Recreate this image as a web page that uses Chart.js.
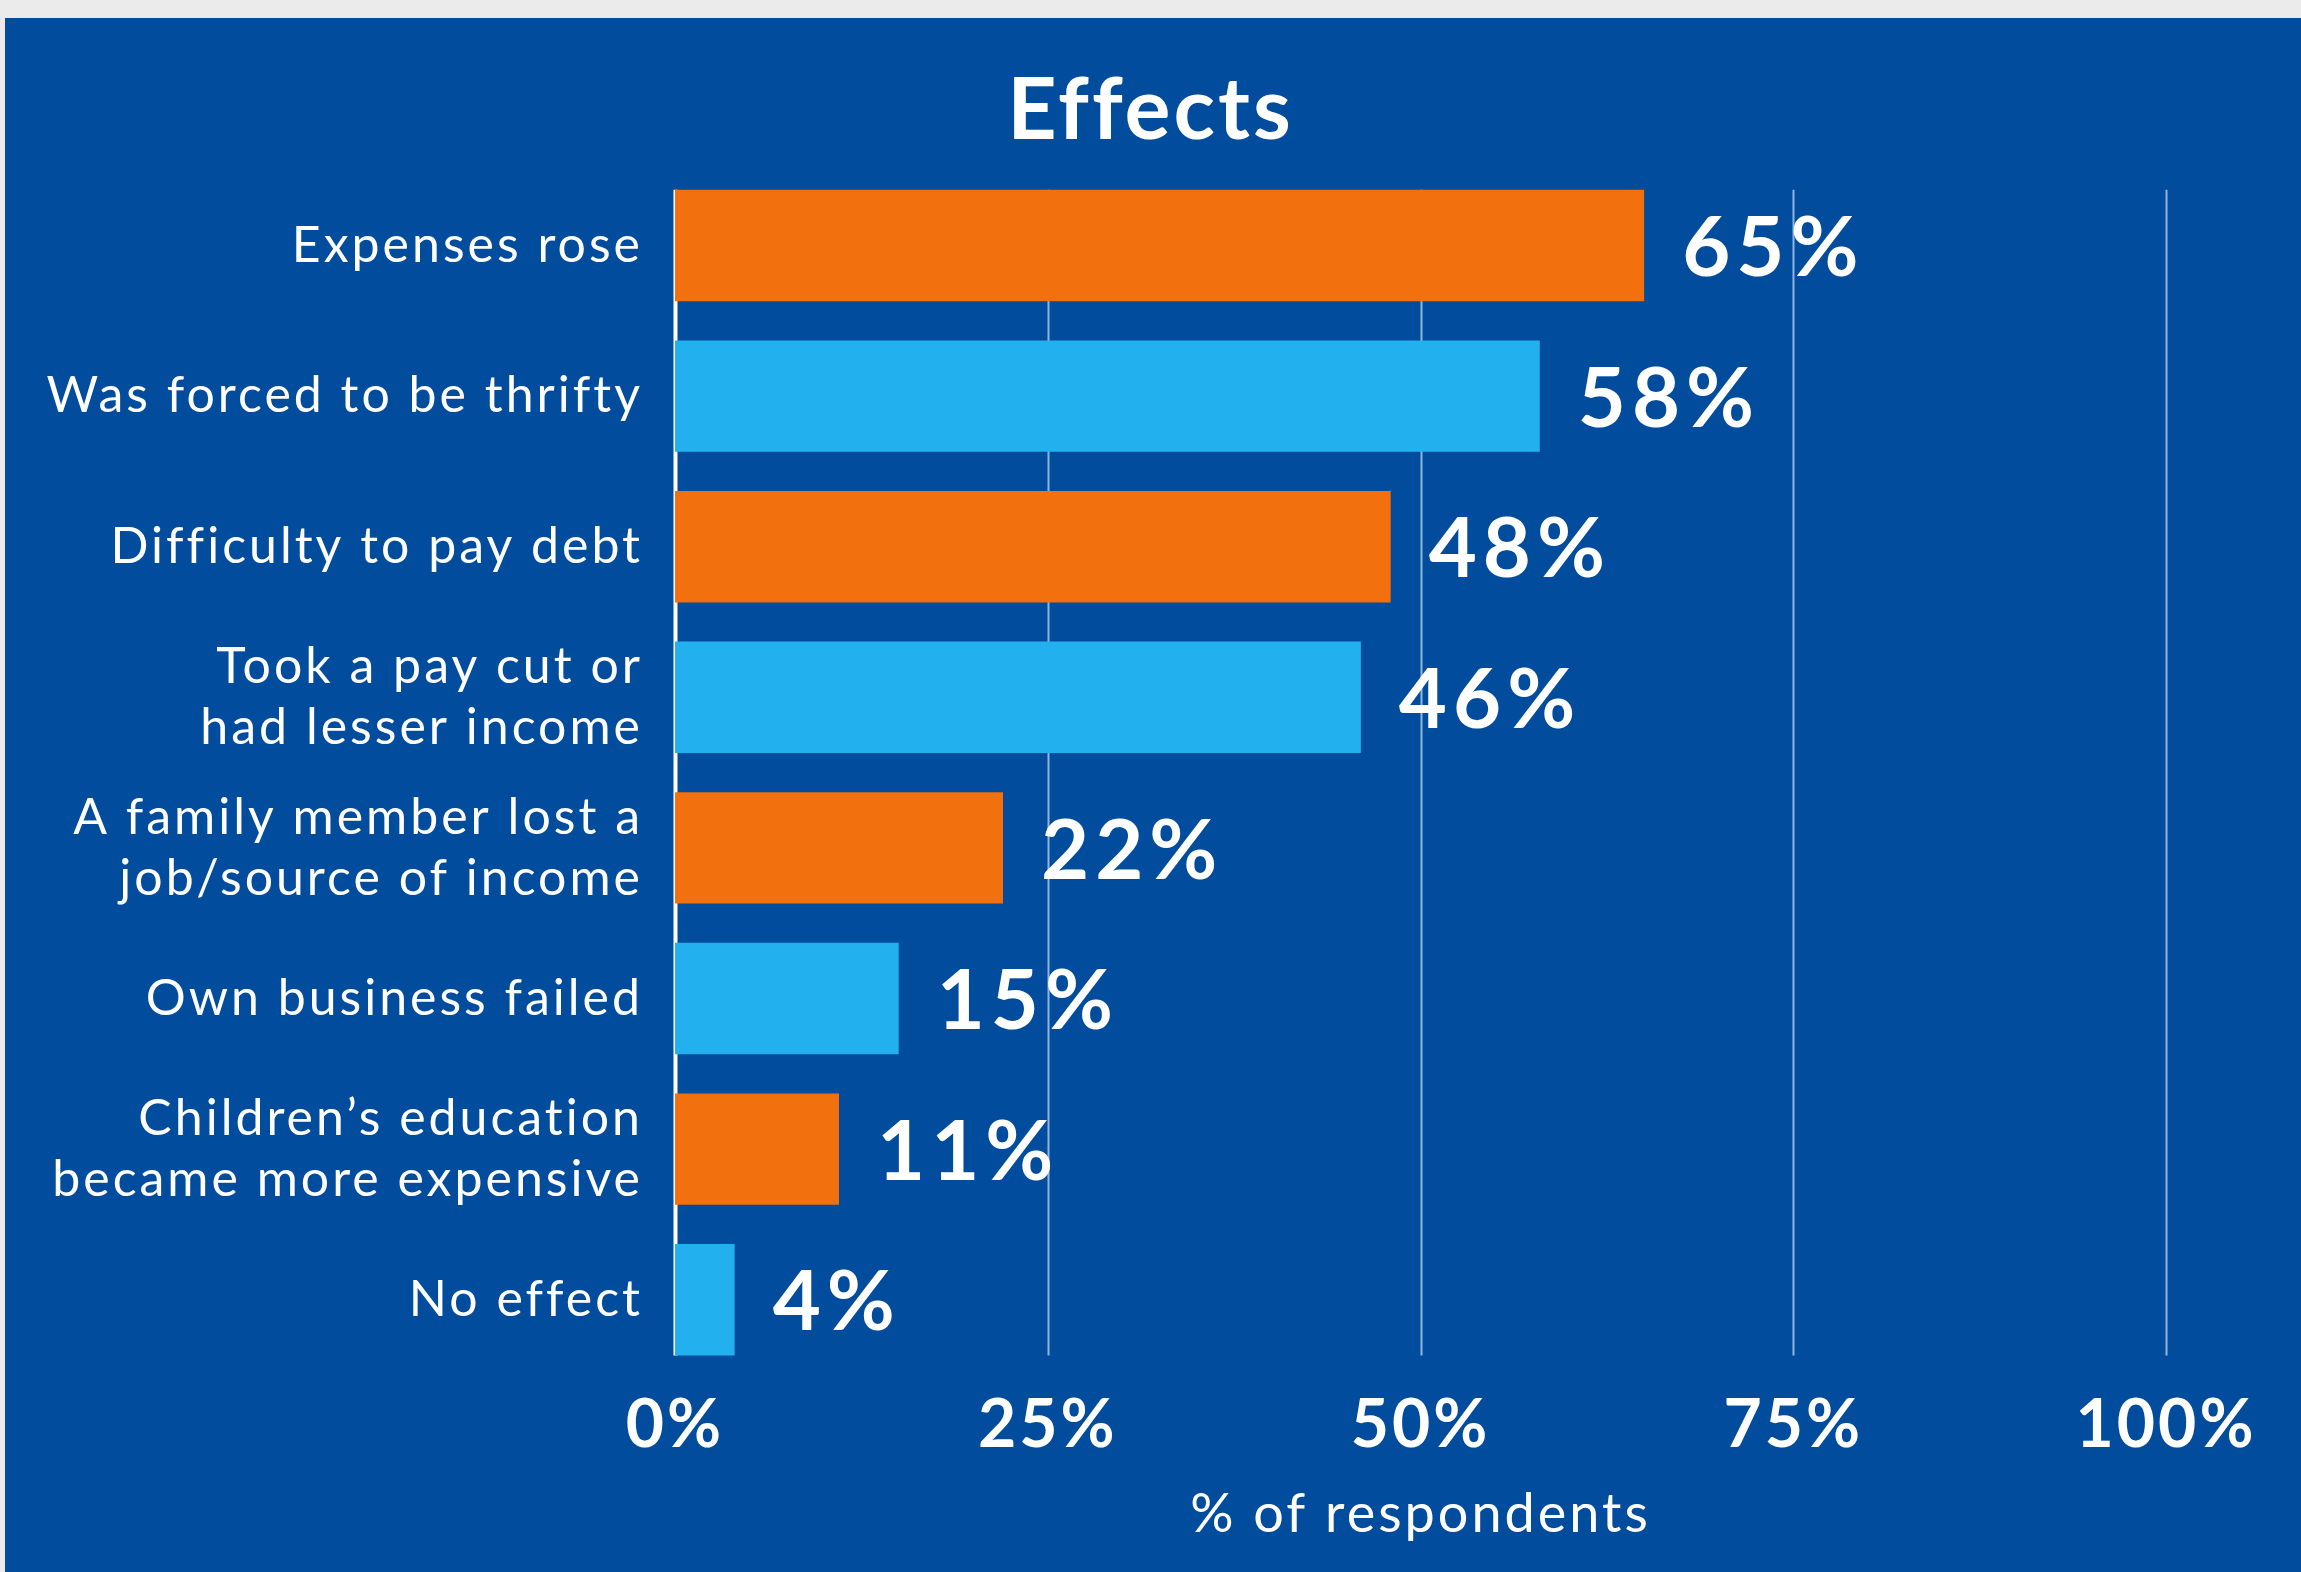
<!DOCTYPE html>
<html>
<head>
<meta charset="utf-8">
<script src="https://cdn.jsdelivr.net/npm/chart.js@4.4.1/dist/chart.umd.min.js"></script>
<style>
  html, body { margin: 0; padding: 0; background: #ebebeb; }
  #panel { position: absolute; left: 5px; top: 18px; right: 0; bottom: 0; background: #014c9c; }
  #wrap { position: absolute; left: 0; top: 0; width: 2301px; height: 1572px; }
</style>
</head>
<body>
<div id="panel"></div>
<div id="wrap"><canvas id="effectsChart"></canvas></div>
<script>
// data
var categories = [
  "Expenses rose",
  "Was forced to be thrifty",
  "Difficulty to pay debt",
  ["Took a pay cut or", "had lesser income"],
  ["A family member lost a", "job/source of income"],
  "Own business failed",
  ["Children\u2019s education", "became more expensive"],
  "No effect"
];
var respondents = [65, 58, 48, 46, 22, 15, 11, 4];
var tickValues = [0, 25, 50, 75, 100];

var ORANGE = "#f2700d";
var SKY = "#22b1ee";
var FONT = "Lato, 'Open Sans', sans-serif";

// the reference font is tracked out a bit
var spacingPlugin = {
  id: "tracking",
  beforeUpdate: function (chart) { chart.ctx.letterSpacing = "3px"; },
  beforeDraw: function (chart) { chart.ctx.letterSpacing = "3px"; }
};

// grid lines only between first bar top and last bar bottom, under the bars
var gridPlugin = {
  id: "shortGrid",
  beforeDatasetsDraw: function (chart) {
    var ctx = chart.ctx;
    var bars = chart.getDatasetMeta(0).data;
    if (!bars.length) return;
    var top = bars[0].y - bars[0].height / 2;
    var bottom = bars[bars.length - 1].y + bars[bars.length - 1].height / 2;
    var x = chart.scales.x;
    ctx.save();
    tickValues.forEach(function (v) {
      var px = Math.round(x.getPixelForValue(v)) + 0.5;
      ctx.beginPath();
      ctx.lineWidth = v === 0 ? 4 : 2;
      ctx.strokeStyle = v === 0 ? "#ffffff" : "rgba(170,200,235,0.85)";
      ctx.moveTo(px, top);
      ctx.lineTo(px, bottom);
      ctx.stroke();
    });
    ctx.restore();
  }
};

// value labels right of each bar
var valuePlugin = {
  id: "valueLabels",
  afterDatasetsDraw: function (chart) {
    var ctx = chart.ctx;
    var meta = chart.getDatasetMeta(0);
    ctx.save();
    ctx.fillStyle = "#ffffff";
    ctx.font = "bold 83px " + FONT;
    ctx.letterSpacing = "6px";
    ctx.textAlign = "left";
    ctx.textBaseline = "middle";
    meta.data.forEach(function (bar, i) {
      ctx.fillText(respondents[i] + "%", bar.x + 38, bar.y + 4);
    });
    ctx.restore();
  }
};

var ctx = document.getElementById("effectsChart").getContext("2d");
var chart = new Chart(ctx, {
  type: "bar",
  data: {
    labels: categories,
    datasets: [
      {
        data: respondents,
        backgroundColor: respondents.map(function (v, i) { return i % 2 === 0 ? ORANGE : SKY; }),
        borderWidth: 0,
        barPercentage: 0.74,
        categoryPercentage: 1
      }
    ]
  },
  options: {
    indexAxis: "y",
    responsive: true,
    maintainAspectRatio: false,
    animation: false,
    layout: { padding: 0 },
    plugins: {
      legend: { display: false },
      tooltip: { enabled: false },
      title: {
        display: true,
        text: "Effects",
        color: "#ffffff",
        font: { family: FONT, size: 86, weight: "bold", lineHeight: 1.2 },
        padding: { top: 60, bottom: 7 }
      }
    },
    scales: {
      x: {
        min: 0,
        max: 100,
        afterBuildTicks: function (scale) {
          scale.ticks = tickValues.map(function (v) { return { value: v }; });
        },
        afterFit: function (scale) { scale.height = 197; },
        grid: { display: false, drawTicks: false },
        border: { display: false },
        ticks: {
          color: "#ffffff",
          padding: 11,
          maxRotation: 0,
          autoSkip: false,
          font: { family: FONT, size: 66, weight: "bold" },
          callback: function (v) { return v + "%"; }
        },
        title: {
          display: true,
          text: "% of respondents",
          color: "#ffffff",
          font: { family: FONT, size: 54 },
          padding: { top: 0, bottom: 25 }
        }
      },
      y: {
        afterFit: function (scale) { scale.width = 675; },
        grid: { display: false, drawTicks: false },
        border: { display: false },
        ticks: {
          color: "#ffffff",
          padding: 32,
          autoSkip: false,
          font: { family: FONT, size: 50, lineHeight: 1.22 }
        }
      },
      // empty right-hand axis, only keeps room for the last tick label
      yRight: {
        type: "category",
        position: "right",
        afterFit: function (scale) { scale.width = 135; },
        grid: { display: false, drawTicks: false },
        border: { display: false },
        ticks: { display: false }
      }
    }
  },
  plugins: [spacingPlugin, gridPlugin, valuePlugin]
});
</script>
</body>
</html>
